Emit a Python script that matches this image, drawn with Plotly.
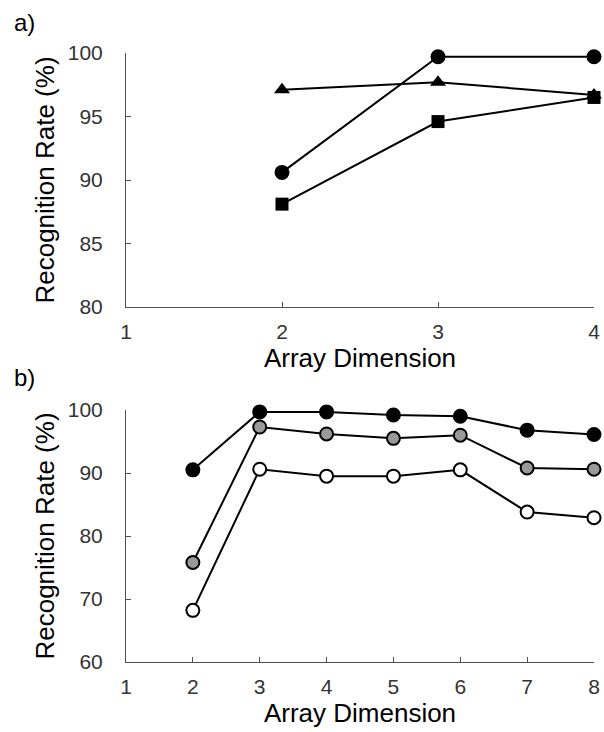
import plotly.graph_objects as go

# Panel a: recognition rate vs array dimension for three marker groups
dims_a = [2, 3, 4]
circle_a = [90.6, 99.7, 99.7]
triangle_a = [97.1, 97.7, 96.7]
square_a = [88.1, 94.6, 96.5]

# Panel b: recognition rate vs array dimension, three shaded series
dims_b = [2, 3, 4, 5, 6, 7, 8]
black_b = [90.5, 99.7, 99.7, 99.2, 99.0, 96.8, 96.1]
gray_b = [75.8, 97.3, 96.2, 95.5, 96.0, 90.8, 90.6]
white_b = [68.2, 90.6, 89.5, 89.5, 90.5, 83.8, 82.9]

W, H = 604, 732
FONT = "Liberation Sans, Arial"
TICKFONT = dict(family=FONT, size=21, color="#333333")
TITLEFONT = dict(family=FONT, size=26, color="#000000")
AXIS_COLOR = "#505050"

fig = go.Figure()

line = dict(color="black", width=2)

fig.add_trace(go.Scatter(x=dims_a, y=circle_a, mode="lines+markers", line=line,
                         marker=dict(symbol="circle", size=15, color="black"),
                         cliponaxis=False, xaxis="x", yaxis="y", showlegend=False))
fig.add_trace(go.Scatter(x=dims_a, y=triangle_a, mode="lines+markers", line=line,
                         marker=dict(symbol="triangle-up", size=14, color="black"),
                         cliponaxis=False, xaxis="x", yaxis="y", showlegend=False))
fig.add_trace(go.Scatter(x=dims_a, y=square_a, mode="lines+markers", line=line,
                         marker=dict(symbol="square", size=13, color="black"),
                         cliponaxis=False, xaxis="x", yaxis="y", showlegend=False))

for vals, fill in [(black_b, "black"), (gray_b, "#999999"), (white_b, "white")]:
    fig.add_trace(go.Scatter(x=dims_b, y=vals, mode="lines+markers", line=line,
                             marker=dict(symbol="circle", size=13, color=fill,
                                         line=dict(color="black", width=2)),
                             cliponaxis=False, xaxis="x2", yaxis="y2", showlegend=False))

x_dom = [126 / W, 594 / W]
ya_dom = [1 - 307 / H, 1 - 53 / H]
yb_dom = [1 - 662 / H, 1 - 410 / H]

common_x = dict(showline=True, linecolor=AXIS_COLOR, linewidth=1, ticks="inside",
                ticklen=5, tickcolor=AXIS_COLOR, tickwidth=1, showgrid=False,
                zeroline=False, dtick=1, tickfont=TICKFONT, ticklabelstandoff=6,
                automargin=False,
                title=dict(text="Array Dimension", font=TITLEFONT, standoff=0))
common_y = dict(showline=True, linecolor=AXIS_COLOR, linewidth=1, ticks="inside",
                ticklen=5, tickcolor=AXIS_COLOR, tickwidth=1, showgrid=False,
                zeroline=False, tickfont=TICKFONT, ticklabelstandoff=18,
                automargin=False,
                title=dict(text="Recognition Rate (%)", font=TITLEFONT, standoff=5))

fig.update_layout(
    width=W, height=H,
    margin=dict(l=0, r=0, t=0, b=0, autoexpand=False),
    paper_bgcolor="white", plot_bgcolor="white",
    xaxis=dict(domain=x_dom, range=[1, 4], anchor="y", **common_x),
    yaxis=dict(domain=ya_dom, range=[80, 100], dtick=5, anchor="x", **common_y),
    xaxis2=dict(domain=x_dom, range=[1, 8], anchor="y2", **common_x),
    yaxis2=dict(domain=yb_dom, range=[60, 100], dtick=10, anchor="x2", **common_y),
    annotations=[
        dict(text="a)", x=12 / W, y=1 - 23 / H, xref="paper", yref="paper",
             xanchor="left", yanchor="middle", showarrow=False,
             font=dict(family=FONT, size=24, color="black")),
        dict(text="b)", x=12 / W, y=1 - 377 / H, xref="paper", yref="paper",
             xanchor="left", yanchor="middle", showarrow=False,
             font=dict(family=FONT, size=24, color="black")),
    ],
)

fig.write_html("out.html")
